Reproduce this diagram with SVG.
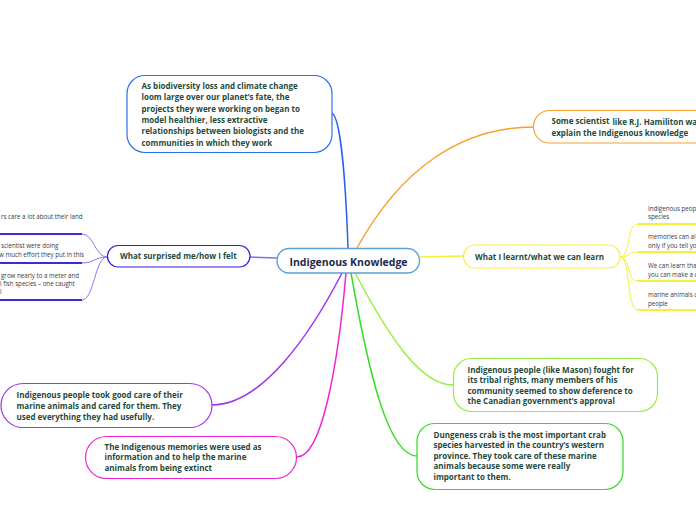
<svg xmlns="http://www.w3.org/2000/svg" width="696" height="520" viewBox="0 0 696 520">
<style>
.t{font-family:"Open Sans","Noto Sans",sans-serif;font-weight:bold;font-size:8px;fill:#1f4a3b}
.h{font-family:"Open Sans","Noto Sans",sans-serif;font-weight:bold;font-size:8px;fill:#1f4a3b}
.s{font-family:"Open Sans","Noto Sans",sans-serif;font-size:6.2px;fill:#3a3a3a}
.box{fill:#fff;stroke-width:1.2}
.c{fill:none;stroke-width:1.5}
</style>
<g id="connectors">
<path class="c" d="M331,113 C341,113 346,190 348,248" stroke="#2a5ff0" stroke-width="2"/>
<path class="c" d="M357,248 C400,170 460,127 534,127" stroke="#f7a030"/>
<path class="c" d="M419,257 L463,256" stroke="#f5ef3a"/>
<path class="c" d="M277,258 L250,257" stroke="#7f6ff0"/>
<path class="c" d="M342,273 C310,335 262,405 212,405" stroke="#a033f0"/>
<path class="c" d="M346,273 C338,365 322,457 297,457" stroke="#f022d8"/>
<path class="c" d="M351,273 C368,370 388,456 417,456" stroke="#33dd22"/>
<path class="c" d="M355,273 C388,335 420,385 453,385" stroke="#99ee44"/>
<g stroke="#f5ef3a" fill="none" stroke-width="1">
<path d="M620,257 C631,257 626,224 638,224"/>
<path d="M620,257 C631,257 626,252 638,252"/>
<path d="M620,257 C631,257 626,281 638,281"/>
<path d="M620,257 C631,257 626,310 638,310"/>
</g>
<g stroke="#f5ef3a" stroke-width="2">
<line x1="638" y1="224" x2="696" y2="224"/>
<line x1="638" y1="252" x2="696" y2="252"/>
<line x1="638" y1="281" x2="696" y2="281"/>
<line x1="638" y1="310" x2="696" y2="310"/>
</g>
<g stroke="#8878f0" fill="none" stroke-width="1">
<path d="M107,257 C95,257 94,234 82,234"/>
<path d="M107,257 C95,257 94,263 82,263"/>
<path d="M107,257 C95,257 94,300 82,300"/>
</g>
<g stroke="#3a2ae0" stroke-width="2">
<line x1="0" y1="234" x2="82" y2="234"/>
<line x1="0" y1="263" x2="82" y2="263"/>
<line x1="0" y1="300" x2="82" y2="300"/>
</g>
</g>
<g id="central">
<rect x="277" y="248.5" width="142.5" height="24.5" rx="12" fill="#fff" stroke="#5aa0d8" stroke-width="1.3"/>
<text x="348.5" y="266" text-anchor="middle" font-family="'Open Sans','Noto Sans',sans-serif" font-weight="bold" font-size="10.5" fill="#1b2a4e">Indigenous Knowledge</text>
</g>
<g id="n-biodiversity">
<rect class="box" x="127" y="75.5" width="205" height="77" rx="18" stroke="#2a6ef0"/>
<text class="t" x="141.5"><tspan x="141.5" y="89">As biodiversity loss and climate change</tspan><tspan x="141.5" y="100.3">loom large over our planet’s fate, the</tspan><tspan x="141.5" y="111.6">projects they were working on began to</tspan><tspan x="141.5" y="122.9">model healthier, less extractive</tspan><tspan x="141.5" y="134.2">relationships between biologists and the</tspan><tspan x="141.5" y="145.5">communities in which they work</tspan></text>
</g>
<g id="n-scientist">
<rect class="box" x="533.5" y="110.5" width="200" height="32.5" rx="16" stroke="#f7a030"/>
<text class="t" x="551.5"><tspan x="551.5" y="124">Some scientist</tspan><tspan dx="3" y="124.6">like R.J. Hamiliton was</tspan><tspan x="551.5" y="135.5">explain the Indigenous knowledge</tspan></text>
</g>
<g id="n-learnt">
<rect class="box" x="463.5" y="245" width="156.5" height="23" rx="11.5" stroke="#f5ef3a"/>
<text class="h" x="475" y="259.5">What I learnt/what we can learn</text>
<text class="s"><tspan x="648" y="211">Indigenous peop</tspan><tspan x="648" y="219">species</tspan></text>
<text class="s"><tspan x="648" y="239">memories can al</tspan><tspan x="648" y="247.5">only if you tell yo</tspan></text>
<text class="s"><tspan x="648" y="268">We can learn tha</tspan><tspan x="648" y="276.5">you can make a c</tspan></text>
<text class="s"><tspan x="648" y="297">marine animals a</tspan><tspan x="648" y="305.5">people</tspan></text>
</g>
<g id="n-surprised">
<rect class="box" x="107.5" y="245.5" width="142.5" height="21.5" rx="10.7" stroke="#3a1ad8"/>
<text class="h" x="120" y="259">What surprised me/how I felt</text>
<text class="s" x="1" y="219">rs care a lot about their land</text>
<text class="s"><tspan x="1" y="248">scientist were doing</tspan><tspan x="-1" y="256.5">w much effort they put in this</tspan></text>
<text class="s"><tspan x="1" y="277.5">grow nearly to a meter and</tspan><tspan x="0" y="285.5">l fish species – one caught</tspan><tspan x="0" y="293.5">l</tspan></text>
</g>
<g id="n-care">
<rect class="box" x="1" y="383.5" width="211" height="44" rx="22" stroke="#a033f0"/>
<text class="t"><tspan x="16.5" y="397.5">Indigenous people took good care of their</tspan><tspan x="16.5" y="408.8">marine animals and cared for them. They</tspan><tspan x="16.5" y="420.1">used everything they had usefully.</tspan></text>
</g>
<g id="n-memories">
<rect class="box" x="85.5" y="436.5" width="211" height="42" rx="21" stroke="#f022d8"/>
<text class="t"><tspan x="104.5" y="449.5">The Indigenous memories were used as</tspan><tspan x="104.5" y="460">information and to help the marine</tspan><tspan x="104.5" y="470.5">animals from being extinct</tspan></text>
</g>
<g id="n-mason">
<rect class="box" x="453.5" y="358.5" width="204" height="53" rx="18" stroke="#99ee44"/>
<text class="t"><tspan x="467.5" y="372.5">Indigenous people (like Mason) fought for</tspan><tspan x="467.5" y="383">its tribal rights, many members of his</tspan><tspan x="467.5" y="393.5">community seemed to show deference to</tspan><tspan x="467.5" y="404">the Canadian government’s approval</tspan></text>
</g>
<g id="n-crab">
<rect class="box" x="417" y="423.5" width="206" height="66" rx="18" stroke="#33dd22"/>
<text class="t"><tspan x="433.5" y="437.5">Dungeness crab is the most important crab</tspan><tspan x="433.5" y="448">species harvested in the country’s western</tspan><tspan x="433.5" y="458.5">province. They took care of these marine</tspan><tspan x="433.5" y="469">animals because some were really</tspan><tspan x="433.5" y="479.5">important to them.</tspan></text>
</g>
</svg>
